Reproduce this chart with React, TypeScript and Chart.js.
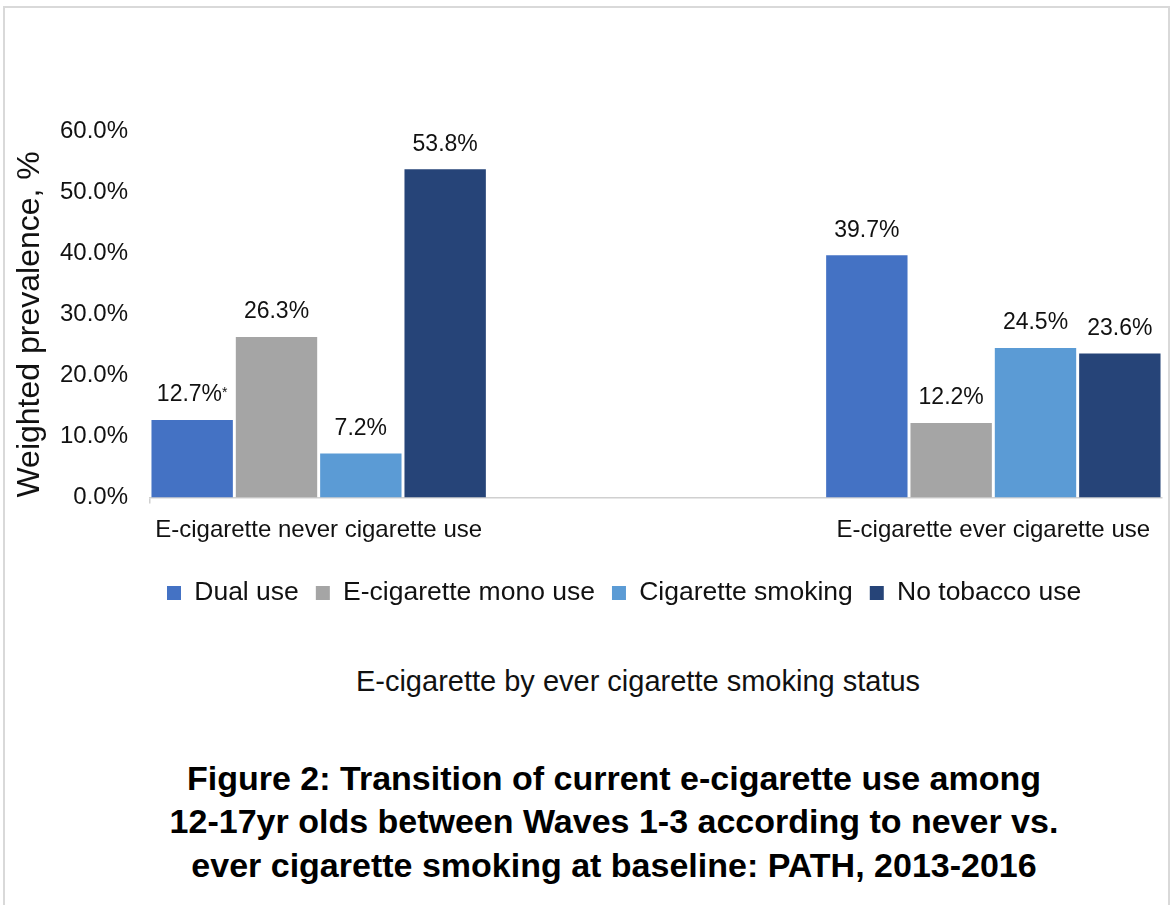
import React, { useEffect, useRef } from 'react';
import { Chart, registerables } from 'chart.js';

Chart.register(...registerables);

const FONT = "'Liberation Sans', Arial, Helvetica, sans-serif";

// Three slots on the category axis; the middle one is left empty as a spacer.
const categories = ['E-cigarette never cigarette use', '', 'E-cigarette ever cigarette use'];
const seriesNames = ['Dual use', 'E-cigarette mono use', 'Cigarette smoking', 'No tobacco use'];
const dualUse = [12.7, null, 39.7];
const eCigaretteMonoUse = [26.3, null, 12.2];
const cigaretteSmoking = [7.2, null, 24.5];
const noTobaccoUse = [53.8, null, 23.6];
const dualUseNotes = ['*', '', ''];
const seriesColors = ['#4472C4', '#A5A5A5', '#5B9BD5', '#264478'];
const yMin = 0;
const yMax = 60;
const yStep = 10;

const yTitle = 'Weighted prevalence, %';
const xTitle = 'E-cigarette by ever cigarette smoking status';
const figureTitle = [
  'Figure 2: Transition of current e-cigarette use among',
  '12-17yr olds between Waves 1-3 according to never vs.',
  'ever cigarette smoking at baseline: PATH, 2013-2016',
];

// Percentage labels above each bar, with an optional superscript note.
const valueLabels = {
  id: 'valueLabels',
  afterDatasetsDraw(chart: any) {
    const ctx = chart.ctx;
    ctx.save();
    ctx.fillStyle = '#111';
    ctx.textBaseline = 'middle';
    ctx.textAlign = 'left';
    chart.data.datasets.forEach((ds: any, di: number) => {
      const meta = chart.getDatasetMeta(di);
      meta.data.forEach((bar: any, i: number) => {
        const v = ds.data[i];
        if (v === null || v === undefined) return;
        const text = Number(v).toFixed(1) + '%';
        const note = (ds.notes && ds.notes[i]) || '';
        ctx.font = `23px ${FONT}`;
        const w = ctx.measureText(text).width;
        ctx.font = `14px ${FONT}`;
        const nw = note ? ctx.measureText(note).width : 0;
        const x0 = bar.x - (w + nw) / 2;
        const y = bar.y - 25;
        ctx.font = `23px ${FONT}`;
        ctx.fillText(text, x0, y);
        if (note) {
          ctx.font = `14px ${FONT}`;
          ctx.fillText(note, x0 + w, y - 2);
        }
      });
    });
    ctx.restore();
  },
};

export default function App() {
  const canvasRef = useRef<HTMLCanvasElement | null>(null);

  useEffect(() => {
    if (!canvasRef.current) return;
    Chart.defaults.font.family = FONT;
    const values = [dualUse, eCigaretteMonoUse, cigaretteSmoking, noTobaccoUse];
    const chart = new Chart(canvasRef.current, {
      type: 'bar',
      data: {
        labels: categories,
        datasets: seriesNames.map((name, k) => ({
          label: name,
          data: values[k],
          backgroundColor: seriesColors[k],
          borderWidth: 0,
          categoryPercentage: 1,
          barPercentage: 0.965,
          notes: k === 0 ? dualUseNotes : undefined,
        })) as any,
      },
      options: {
        responsive: true,
        maintainAspectRatio: false,
        animation: false,
        layout: { padding: { left: 4, right: 9, top: 131.5, bottom: 3.75 } },
        plugins: {
          legend: {
            position: 'bottom',
            fullSize: false,
            align: 'start',
            labels: {
              boxWidth: 14,
              boxHeight: 14,
              padding: 17,
              color: '#111',
              font: { family: FONT, size: 26.5 },
            },
          },
          tooltip: { enabled: false },
        },
        scales: {
          x: {
            grid: {
              display: true,
              drawOnChartArea: false,
              drawTicks: true,
              tickLength: 6,
              offset: true,
              lineWidth: 1.5,
              color: (c: any) => (c.index === 0 ? '#d0d0d0' : 'rgba(0,0,0,0)'),
            },
            border: { display: true, color: '#d0d0d0', width: 1.5 },
            ticks: {
              padding: 12,
              color: '#111',
              autoSkip: false,
              maxRotation: 0,
              minRotation: 0,
              font: { family: FONT, size: 24 },
            },
            afterFit: (s: any) => {
              s.height = 65.25;
            },
          },
          y: {
            min: yMin,
            max: yMax,
            grid: { display: false, drawTicks: false },
            border: { display: false },
            ticks: {
              stepSize: yStep,
              padding: 22,
              color: '#111',
              font: { family: FONT, size: 24 },
              callback: (v: any) => Number(v).toFixed(1) + '%',
            },
            title: {
              display: true,
              text: yTitle,
              align: 'start',
              color: '#111',
              font: { family: FONT, size: 32 },
              padding: { top: 7, bottom: 0 },
            },
            afterFit: (s: any) => {
              s.width = 146;
            },
          },
        },
      } as any,
      plugins: [valueLabels],
    });
    return () => chart.destroy();
  }, []);

  return (
    <div
      style={{
        position: 'absolute',
        left: 0,
        top: 0,
        width: 1171,
        height: 905,
        overflow: 'hidden',
        background: '#fff',
      }}
    >
      <div
        style={{
          position: 'absolute',
          left: 3,
          top: 6,
          width: 1167,
          height: 1000,
          boxSizing: 'border-box',
          border: '2px solid #d9d9d9',
        }}
      />
      <div style={{ position: 'absolute', left: 0, top: 0, width: 1171, height: 620 }}>
        <canvas ref={canvasRef} />
      </div>
      <div
        style={{
          position: 'absolute',
          left: 638,
          top: 667.2,
          transform: 'translateX(-50%)',
          whiteSpace: 'nowrap',
          fontFamily: FONT,
          fontSize: 29,
          lineHeight: '29px',
          color: '#111',
        }}
      >
        {xTitle}
      </div>
      <div
        style={{
          position: 'absolute',
          left: 614,
          top: 756.5,
          transform: 'translateX(-50%)',
          whiteSpace: 'nowrap',
          textAlign: 'center',
          fontFamily: FONT,
          fontWeight: 'bold',
          fontSize: 34,
          lineHeight: '43.5px',
          color: '#000',
        }}
      >
        {figureTitle.map((line) => (
          <div key={line}>{line}</div>
        ))}
      </div>
    </div>
  );
}
